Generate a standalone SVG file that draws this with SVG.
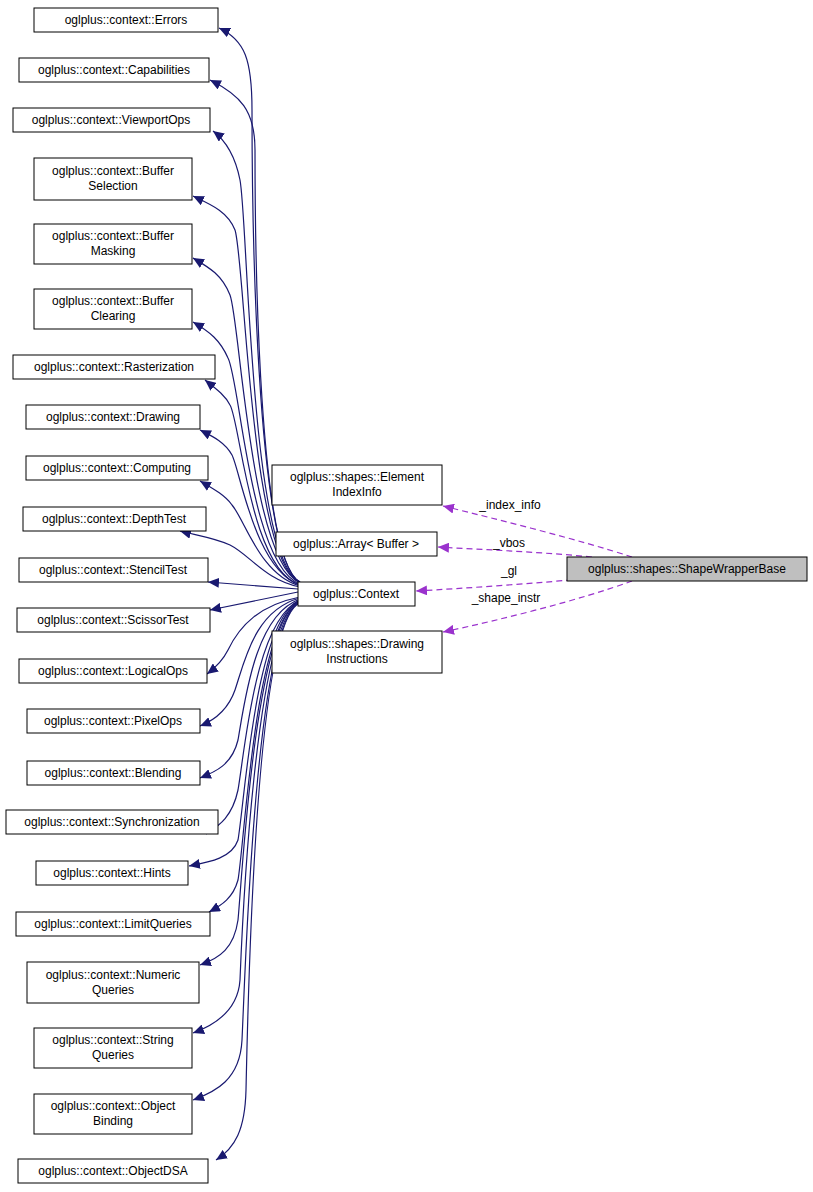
<svg xmlns="http://www.w3.org/2000/svg" width="813" height="1192" viewBox="0 0 813 1192">
<style>
.n rect{fill:#fff;stroke:#000;stroke-width:1}
.g rect{fill:#bfbfbf}
text{font-family:"Liberation Sans",Arial,sans-serif;font-size:12px;text-anchor:middle;fill:#000}
.e{fill:none;stroke:#191970;stroke-width:1.2}
.d{fill:none;stroke:#9a32cd;stroke-width:1.2;stroke-dasharray:6,4}
</style>
<defs>
<marker id="a" markerWidth="12" markerHeight="10" refX="11" refY="5" orient="auto" markerUnits="userSpaceOnUse"><path d="M0,0 L11,5 L0,10 z" fill="#191970"/></marker>
<marker id="p" markerWidth="12" markerHeight="10" refX="11" refY="5" orient="auto" markerUnits="userSpaceOnUse"><path d="M0,0 L11,5 L0,10 z" fill="#9a32cd"/></marker>
</defs>
<g id="edges">
<path class="e" marker-end="url(#a)" d="M300,582 C255,560 252,200 252,110 C252,60 245,40 219,28"/>
<path class="e" marker-end="url(#a)" d="M300,582 C255,560 255,200 255,150 C255,110 240,95 210,80"/>
<path class="e" marker-end="url(#a)" d="M300,582 C250,560 248,220 240,180 C235,155 225,140 213,131"/>
<path class="e" marker-end="url(#a)" d="M300,583 C250,560 245,260 235,230 C228,212 212,205 193,196"/>
<path class="e" marker-end="url(#a)" d="M300,583 C250,560 240,320 230,295 C222,275 210,268 193,258"/>
<path class="e" marker-end="url(#a)" d="M300,584 C250,565 240,380 228,358 C220,340 210,332 193,322"/>
<path class="e" marker-end="url(#a)" d="M300,585 C250,570 240,420 230,405 C225,395 215,388 205,380"/>
<path class="e" marker-end="url(#a)" d="M300,585 C255,570 240,470 232,455 C225,442 212,436 200,430"/>
<path class="e" marker-end="url(#a)" d="M300,586 C260,575 245,520 232,505 C225,495 212,488 200,481"/>
<path class="e" marker-end="url(#a)" d="M300,587 C265,580 250,555 230,545 C215,538 195,535 180,531"/>
<path class="e" marker-end="url(#a)" d="M298,589 L208,582"/>
<path class="e" marker-end="url(#a)" d="M298,592 L210,610"/>
<path class="e" marker-end="url(#a)" d="M300,597 C260,605 240,625 228,650 C222,662 215,668 207,674"/>
<path class="e" marker-end="url(#a)" d="M300,598 C255,610 245,660 235,690 C228,710 215,720 200,726"/>
<path class="e" marker-end="url(#a)" d="M300,599 C255,615 245,700 238,740 C232,765 215,772 200,778"/>
<path class="e" marker-end="url(#a)" d="M300,600 C255,620 245,750 238,790 C232,818 218,826 206,834"/>
<path class="e" marker-end="url(#a)" d="M300,600 C255,620 245,800 238,840 C232,858 210,862 189,866"/>
<path class="e" marker-end="url(#a)" d="M300,601 C255,620 245,840 238,880 C233,898 222,905 209,912"/>
<path class="e" marker-end="url(#a)" d="M300,601 C255,620 242,880 238,920 C234,948 220,958 200,965"/>
<path class="e" marker-end="url(#a)" d="M300,602 C255,620 242,930 240,980 C238,1010 215,1025 193,1033"/>
<path class="e" marker-end="url(#a)" d="M300,602 C255,620 245,980 242,1040 C240,1080 215,1092 193,1100"/>
<path class="e" marker-end="url(#a)" d="M300,603 C255,620 248,1000 246,1090 C245,1130 235,1148 216,1160"/>
<path class="d" marker-end="url(#p)" d="M632,557 C580,540 500,520 443,506"/>
<path class="d" marker-end="url(#p)" d="M592,557 C540,552 490,550 438,547"/>
<path class="d" marker-end="url(#p)" d="M592,578 C540,583 470,588 416,591"/>
<path class="d" marker-end="url(#p)" d="M632,581 C580,600 500,620 443,632"/>
</g>
<g id="lbl">
<text x="510" y="509">_index_info</text>
<text x="509" y="547">_vbos</text>
<text x="509" y="575">_gl</text>
<text x="506" y="602">_shape_instr</text>
</g>
<g id="n1" class="n"><rect x="34" y="8" width="184" height="24"/><text x="126" y="24">oglplus::context::Errors</text></g>
<g id="n2" class="n"><rect x="19" y="58" width="190" height="24"/><text x="114" y="74">oglplus::context::Capabilities</text></g>
<g id="n3" class="n"><rect x="13" y="108" width="197" height="24"/><text x="111" y="124">oglplus::context::ViewportOps</text></g>
<g id="n4" class="n"><rect x="34" y="158" width="158" height="42"/><text x="113" y="175">oglplus::context::Buffer</text><text x="113" y="190">Selection</text></g>
<g id="n5" class="n"><rect x="34" y="224" width="158" height="40"/><text x="113" y="240">oglplus::context::Buffer</text><text x="113" y="255">Masking</text></g>
<g id="n6" class="n"><rect x="34" y="289" width="158" height="40"/><text x="113" y="305">oglplus::context::Buffer</text><text x="113" y="320">Clearing</text></g>
<g id="n7" class="n"><rect x="13" y="355" width="202" height="24"/><text x="114" y="371">oglplus::context::Rasterization</text></g>
<g id="n8" class="n"><rect x="26" y="405" width="174" height="24"/><text x="113" y="421">oglplus::context::Drawing</text></g>
<g id="n9" class="n"><rect x="26" y="456" width="182" height="24"/><text x="117" y="472">oglplus::context::Computing</text></g>
<g id="n10" class="n"><rect x="23" y="507" width="183" height="24"/><text x="114" y="523">oglplus::context::DepthTest</text></g>
<g id="n11" class="n"><rect x="19" y="558" width="189" height="24"/><text x="113" y="574">oglplus::context::StencilTest</text></g>
<g id="n12" class="n"><rect x="17" y="608" width="193" height="24"/><text x="113" y="624">oglplus::context::ScissorTest</text></g>
<g id="n13" class="n"><rect x="19" y="659" width="188" height="24"/><text x="113" y="675">oglplus::context::LogicalOps</text></g>
<g id="n14" class="n"><rect x="27" y="709" width="173" height="24"/><text x="113" y="725">oglplus::context::PixelOps</text></g>
<g id="n15" class="n"><rect x="27" y="761" width="173" height="24"/><text x="113" y="777">oglplus::context::Blending</text></g>
<g id="n16" class="n"><rect x="6" y="810" width="212" height="24"/><text x="112" y="826">oglplus::context::Synchronization</text></g>
<g id="n17" class="n"><rect x="36" y="861" width="152" height="24"/><text x="112" y="877">oglplus::context::Hints</text></g>
<g id="n18" class="n"><rect x="16" y="912" width="194" height="24"/><text x="113" y="928">oglplus::context::LimitQueries</text></g>
<g id="n19" class="n"><rect x="27" y="962" width="172" height="41"/><text x="113" y="979">oglplus::context::Numeric</text><text x="113" y="994">Queries</text></g>
<g id="n20" class="n"><rect x="34" y="1028" width="158" height="40"/><text x="113" y="1044">oglplus::context::String</text><text x="113" y="1059">Queries</text></g>
<g id="n21" class="n"><rect x="34" y="1094" width="158" height="40"/><text x="113" y="1110">oglplus::context::Object</text><text x="113" y="1125">Binding</text></g>
<g id="n22" class="n"><rect x="18" y="1159" width="190" height="24"/><text x="113" y="1175">oglplus::context::ObjectDSA</text></g>
<g id="ctx" class="n"><rect x="298" y="582" width="117" height="24"/><text x="356" y="598">oglplus::Context</text></g>
<g id="eii" class="n"><rect x="272" y="465" width="170" height="40"/><text x="357" y="481">oglplus::shapes::Element</text><text x="357" y="496">IndexInfo</text></g>
<g id="arr" class="n"><rect x="276" y="532" width="161" height="24"/><text x="356" y="548">oglplus::Array&lt; Buffer &gt;</text></g>
<g id="di" class="n"><rect x="272" y="631" width="170" height="42"/><text x="357" y="648">oglplus::shapes::Drawing</text><text x="357" y="663">Instructions</text></g>
<g id="swb" class="n g"><rect x="567" y="557" width="240" height="24"/><text x="687" y="573">oglplus::shapes::ShapeWrapperBase</text></g>
</svg>
